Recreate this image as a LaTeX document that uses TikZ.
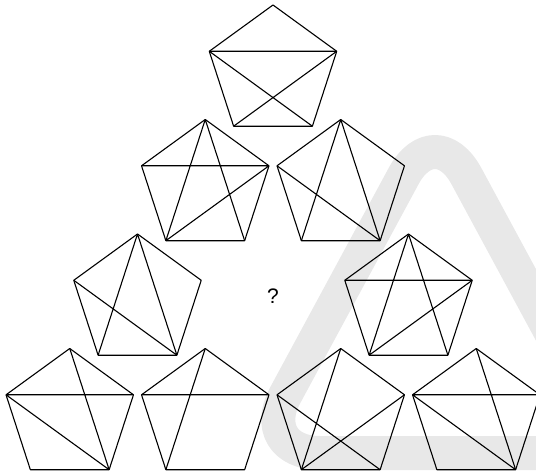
\documentclass[tikz,border=0pt]{standalone}
\usepackage{fontspec}
\setmainfont{Liberation Sans}
\usepackage{tikz}
\usetikzlibrary{calc}

% one pentagon: name, centre x, centre y (radius 67)
\newcommand{\pentagon}[3]{%
  \path (#2,#3) coordinate (#1)
    +(90:67) coordinate (#1-t)
    +(18:67) coordinate (#1-r)
    +(-54:67) coordinate (#1-br)
    +(234:67) coordinate (#1-bl)
    +(162:67) coordinate (#1-l);
  \draw (#1-t) -- (#1-r) -- (#1-br) -- (#1-bl) -- (#1-l) -- cycle;
}

\begin{document}
\begin{tikzpicture}[x=1pt, y=1pt, line width=1.1pt, line join=round]
            \useasboundingbox (0,0) rectangle (536,475);

            % watermark behind the figures
            \draw[black!9, line width=34pt, rounded corners=66pt]
              (435,22) -- (254,22) -- (435,357) -- (616,22) -- cycle;

            % row 1
            \pentagon{a}{273}{403}
            \draw (a-l) -- (a-r) (a-l) -- (a-br) (a-r) -- (a-bl);

            % row 2
            \pentagon{b}{205.25}{288.5}
            \draw (b-t) -- (b-bl) (b-t) -- (b-br) (b-l) -- (b-r) (b-r) -- (b-bl);
            \pentagon{c}{340.75}{288.5}
            \draw (c-t) -- (c-bl) (c-t) -- (c-br) (c-l) -- (c-br);

            % row 3
            \pentagon{d}{137.5}{174}
            \draw (d-t) -- (d-bl) (d-t) -- (d-br) (d-l) -- (d-br);
            \node (q) at (273,179) {\fontsize{21}{24}\selectfont ?};
            \pentagon{e}{408.5}{174}
            \draw (e-t) -- (e-bl) (e-t) -- (e-br) (e-l) -- (e-r) (e-r) -- (e-bl);

            % row 4
            \pentagon{f}{69.75}{59.5}
            \draw (f-l) -- (f-r) (f-t) -- (f-br) (f-l) -- (f-br);
            \pentagon{g}{205.25}{59.5}
            \draw (g-l) -- (g-r) (g-t) -- (g-bl);
            \pentagon{h}{340.75}{59.5}
            \draw (h-t) -- (h-bl) (h-l) -- (h-br) (h-r) -- (h-bl);
            \pentagon{k}{476.25}{59.5}
            \draw (k-l) -- (k-r) (k-t) -- (k-br) (k-l) -- (k-br);
        \end{tikzpicture}
\end{document}
